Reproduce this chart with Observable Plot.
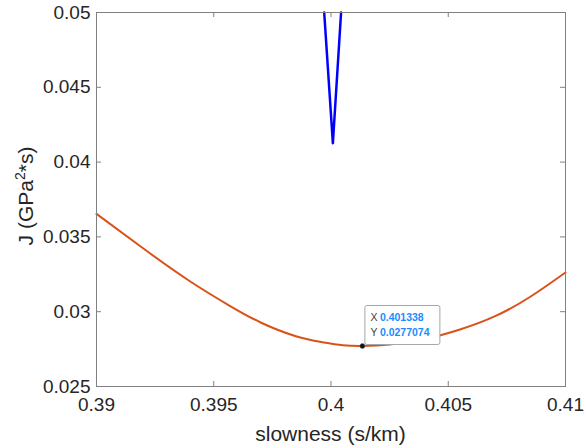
<!DOCTYPE html>
<html><head><meta charset="utf-8">
<script src="https://cdn.jsdelivr.net/npm/d3@7"></script>
<script src="https://cdn.jsdelivr.net/npm/@observablehq/plot@0.6"></script>
<style>body{margin:0;background:#fff}#chart svg{display:block}</style>
</head><body><div id="chart"></div>
<script>
// Orange (misfit) curve
const orangeX = [0.3900, 0.3920, 0.3940, 0.3957, 0.3970, 0.3985, 0.3996, 0.4005, 0.401338, 0.4025, 0.4040, 0.4055, 0.4070, 0.4085, 0.4100];
const orangeY = [0.03654, 0.03422, 0.03202, 0.03038, 0.02928, 0.02836, 0.02797, 0.02776, 0.0277074, 0.02780, 0.02817, 0.02881, 0.02970, 0.03100, 0.03262];
// Blue curve (narrow V)
const blueX = [0.39971, 0.40008, 0.40043];
const blueY = [0.05, 0.04126, 0.05];
// Ticks
const xTicks = [0.39, 0.395, 0.4, 0.405, 0.41];
const yTicks = [0.025, 0.03, 0.035, 0.04, 0.045, 0.05];
// Data tip
const tipX = 0.401338, tipY = 0.0277074;
const tipXLabel = "0.401338", tipYLabel = "0.0277074";
const xLabel = "slowness (s/km)";
const yLabelParts = ["J (GPa", "2", "*s)"];

const orange = orangeX.map((x, i) => ({x, y: orangeY[i]}));
const blue = blueX.map((x, i) => ({x, y: blueY[i]}));
const fmt = d => d3.format("~g")(d);

const W = 586, H = 448, mL = 96, mR = 21, mT = 12, mB = 62;
const fw = W - mL - mR, fh = H - mT - mB, tl = 5;
const axisColor = "#808080";

const chart = Plot.plot({
  width: W, height: H,
  marginLeft: mL, marginRight: mR, marginTop: mT, marginBottom: mB,
  x: {domain: [0.39, 0.41]},
  y: {domain: [0.025, 0.05]},
  style: {fontFamily: "'Liberation Sans', Arial, sans-serif", background: "white", color: "#262626"},
  marks: [
    Plot.line(orange, {x: "x", y: "y", stroke: "#D95319", strokeWidth: 2, curve: "natural"}),
    Plot.line(blue, {x: "x", y: "y", stroke: "#0000FF", strokeWidth: 2.5}),
    Plot.frame({stroke: axisColor}),
    Plot.tickX(xTicks, {x: d => d, stroke: axisColor, insetTop: fh - tl}),
    Plot.tickX(xTicks, {x: d => d, stroke: axisColor, insetBottom: fh - tl}),
    Plot.tickY(yTicks, {y: d => d, stroke: axisColor, insetRight: fw - tl}),
    Plot.tickY(yTicks, {y: d => d, stroke: axisColor, insetLeft: fw - tl}),
    Plot.axisX({anchor: "bottom", ticks: xTicks, tickSize: 0, tickPadding: 11, tickFormat: fmt, fontSize: 19, label: null, fill: "#262626"}),
    Plot.axisY({anchor: "left", ticks: yTicks, tickSize: 0, tickPadding: 6, tickFormat: fmt, fontSize: 19, label: null, fill: "#262626"}),
    Plot.dot([{x: tipX, y: tipY}], {x: "x", y: "y", r: 2.5, fill: "#111", stroke: "#666", strokeWidth: 0.5})
  ]
});
document.getElementById("chart").appendChild(chart);

const svg = d3.select(chart);
const font = "'Liberation Sans', Arial, sans-serif";
// axis labels
svg.append("text").attr("x", mL + fw / 2).attr("y", 441).attr("text-anchor", "middle")
  .attr("font-family", font).attr("font-size", 21).attr("fill", "#262626").text(xLabel);
const yl = svg.append("text").attr("transform", `translate(33,196) rotate(-90)`).attr("text-anchor", "middle")
  .attr("font-family", font).attr("font-size", 21).attr("fill", "#262626");
yl.append("tspan").text(yLabelParts[0]);
yl.append("tspan").attr("dy", -8).attr("font-size", 14).text(yLabelParts[1]);
yl.append("tspan").attr("dy", 8).text(yLabelParts[2]);

// data tip
const px = chart.scale("x").apply(tipX), py = chart.scale("y").apply(tipY);
const g = svg.append("g").attr("font-family", font).attr("font-size", 10.5).attr("text-anchor", "start");
g.append("rect").attr("x", px + 3).attr("y", py - 40).attr("width", 75).attr("height", 39)
  .attr("rx", 2).attr("fill", "white").attr("stroke", "#a6a6a6").attr("stroke-width", 1);
g.append("text").attr("x", px + 8.5).attr("y", py - 24).attr("text-anchor", "start").attr("fill", "#404040").text("X");
g.append("text").attr("x", px + 18).attr("y", py - 24).attr("text-anchor", "start").attr("fill", "#1a8cff").attr("font-weight", "bold").text(tipXLabel);
g.append("text").attr("x", px + 8.5).attr("y", py - 9.5).attr("text-anchor", "start").attr("fill", "#404040").text("Y");
g.append("text").attr("x", px + 18).attr("y", py - 9.5).attr("text-anchor", "start").attr("fill", "#1a8cff").attr("font-weight", "bold").text(tipYLabel);
// bring dot on top
svg.selectAll("g[aria-label='dot']").raise();
</script>
</body></html>
